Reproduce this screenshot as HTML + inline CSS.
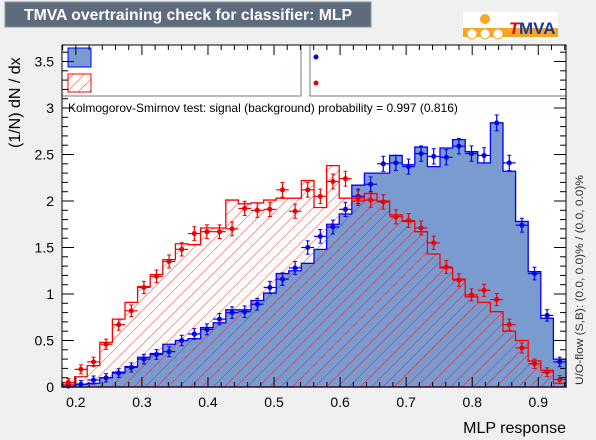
<!DOCTYPE html>
<html><head><meta charset="utf-8"><style>
body{margin:0;background:#f0f0f0;}
svg{display:block;font-family:"Liberation Sans",sans-serif;}
</style></head><body>
<svg id="c" width="596" height="440" xmlns="http://www.w3.org/2000/svg">
<defs>
<pattern id="hatch" patternUnits="userSpaceOnUse" width="8" height="8" patternTransform="rotate(45)">
<line x1="0" y1="0" x2="0" y2="8" stroke="#ff0000" stroke-width="0.8"/>
</pattern>
</defs>
<rect width="596" height="440" fill="#f0f0f0"/>
<rect x="5" y="2" width="366" height="25" fill="#5e6b7d" stroke="#8a95a3"/>
<text x="24" y="20" fill="#fff" font-size="16" font-weight="bold" textLength="328" lengthAdjust="spacingAndGlyphs">TMVA overtraining check for classifier: MLP</text>
<g>
<rect x="463" y="12" width="95" height="28" fill="#fff"/>
<rect x="463" y="28" width="95" height="9" fill="#f5a623"/>
<circle cx="485" cy="19" r="5" fill="#f5a623"/>
<circle cx="472" cy="34" r="5" fill="#fff" stroke="#f5a623"/>
<circle cx="485" cy="34" r="5" fill="#fff" stroke="#f5a623"/>
<circle cx="498" cy="34" r="5" fill="#fff" stroke="#f5a623"/>
<text x="509" y="34" font-size="17" font-weight="bold" font-style="italic" fill="#e00">T</text>
<text x="519" y="34" font-size="17" font-weight="bold" fill="#1a3a9a">MVA</text>
</g>
<rect x="62" y="45" width="504" height="342" fill="#fff"/>
<g id="plot"></g>
<g>
<rect x="62" y="45" width="239" height="51" fill="#fff" stroke="#6e7a8a"/>
<rect x="310" y="45" width="256" height="51" fill="#fff" stroke="#6e7a8a"/>
<rect x="68" y="48" width="23" height="19" fill="#7a9bd0" stroke="#0000ff"/>
<rect x="68" y="74" width="23" height="18" fill="url(#hatch)" stroke="#ff0000"/>
<circle cx="316" cy="57" r="2.5" fill="#0000ee"/>
<circle cx="316" cy="83" r="2.5" fill="#ee0000"/>
</g>
<text x="68" y="112" font-size="12">Kolmogorov-Smirnov test: signal (background) probability = 0.997 (0.816)</text>
<rect x="62" y="45" width="504" height="342" fill="none" stroke="#000"/>
<g id="axes"></g>
<text transform="translate(20,148) rotate(-90)" font-size="16">(1/N) dN / dx</text>
<text x="566" y="433" font-size="16" text-anchor="end">MLP response</text>
<text transform="translate(583,385) rotate(-90)" font-size="11" fill="#333" textLength="210" lengthAdjust="spacingAndGlyphs">U/O-flow (S,B): (0.0, 0.0)% / (0.0, 0.0)%</text>
</svg>
<script>
const xMin=0.179, xMax=0.942, nBins=40;
const sigTrain=[0.01,0.03,0.04,0.1,0.16,0.22,0.32,0.36,0.46,0.5,0.52,0.64,0.69,0.83,0.83,0.93,1.01,1.22,1.25,1.33,1.48,1.75,1.86,2.17,2.30,2.30,2.49,2.39,2.58,2.37,2.57,2.66,2.53,2.41,2.84,2.32,1.78,1.24,0.74,0.30];
const sigTest=[0.01,0.03,0.075,0.1,0.15,0.21,0.3,0.35,0.38,0.5,0.57,0.62,0.73,0.8,0.81,0.89,1.07,1.16,1.28,1.5,1.62,1.72,1.91,2.05,2.18,2.4,2.41,2.37,2.51,2.48,2.47,2.59,2.51,2.49,2.84,2.41,1.74,1.22,0.77,0.27];
const bkgTrain=[0.03,0.11,0.23,0.48,0.73,0.91,1.08,1.21,1.37,1.54,1.53,1.71,1.71,2.01,1.97,1.98,2.01,2.03,2.03,2.22,1.93,2.38,2.03,2.0,2.08,2.0,1.85,1.78,1.67,1.43,1.28,1.16,0.97,0.91,0.81,0.6,0.5,0.28,0.18,0.04];
const bkgTest=[0.05,0.19,0.27,0.46,0.67,0.82,1.07,1.19,1.35,1.48,1.65,1.67,1.67,1.7,1.92,1.9,1.91,2.12,1.89,2.12,2.05,2.21,2.24,2.03,2.01,1.99,1.83,1.79,1.71,1.55,1.29,1.15,0.99,1.04,0.94,0.67,0.42,0.25,0.16,0.08];
const yTicks=[0,0.5,1,1.5,2,2.5,3,3.5];
const yTickLabels=["0","0.5","1","1.5","2","2.5","3","3.5"];
const xTicks=[0.2,0.3,0.4,0.5,0.6,0.7,0.8,0.9];
const xTickLabels=["0.2","0.3","0.4","0.5","0.6","0.7","0.8","0.9"];
const X0=62,X1=566,Y0=387,Y1=45;
const yMax=(Y0-Y1)/93;
const sx=v=>X0+(v-xMin)/(xMax-xMin)*(X1-X0);
const sy=v=>Y0-v/yMax*(Y0-Y1);
const bw=(xMax-xMin)/nBins;
const NS="http://www.w3.org/2000/svg";
const plot=document.getElementById('plot'), axes=document.getElementById('axes');
function mk(tag,attrs,parent){const e=document.createElementNS(NS,tag);for(const k in attrs)e.setAttribute(k,attrs[k]);parent.appendChild(e);return e;}
function stepPath(vals){let d=`M${sx(xMin)},${sy(0)}`;vals.forEach((v,i)=>{d+=` L${sx(xMin+i*bw)},${sy(v)} L${sx(xMin+(i+1)*bw)},${sy(v)}`;});d+=` L${sx(xMax)},${sy(0)} Z`;return d;}
let p=mk('path',{d:stepPath(sigTrain),fill:'#7a9bd0',stroke:'#0000ff','stroke-width':1.3},plot);


p=mk('path',{d:stepPath(bkgTrain),fill:'url(#hatch)',stroke:'#ff0000','stroke-width':1.3},plot);


function pts(vals,col,name){vals.forEach((v,i)=>{const c=xMin+(i+0.5)*bw;const e=0.035+0.03*Math.sqrt(v);const g=mk('g',{},plot);


mk('line',{x1:sx(c-bw/2),x2:sx(c+bw/2),y1:sy(v),y2:sy(v),stroke:col,'stroke-width':1.2},g);
mk('line',{x1:sx(c),x2:sx(c),y1:sy(v+e),y2:sy(Math.max(0,v-e)),stroke:col,'stroke-width':1.2},g);
mk('line',{x1:sx(c)-2,x2:sx(c)+2,y1:sy(v+e),y2:sy(v+e),stroke:col},g);
mk('line',{x1:sx(c)-2,x2:sx(c)+2,y1:sy(Math.max(0,v-e)),y2:sy(Math.max(0,v-e)),stroke:col},g);
mk('circle',{cx:sx(c),cy:sy(v),r:2.5,fill:col},g);});}
pts(sigTest,'#0000ee','signal-test-point');
pts(bkgTest,'#ee0000','background-test-point');
for(let v=0;v<=yMax+1e-9;v+=0.1){const y=sy(v);const maj=Math.abs(v*2-Math.round(v*2))<1e-6;const L=maj?12:6;
mk('line',{x1:X0,x2:X0+L,y1:y,y2:y,stroke:'#000'},axes);mk('line',{x1:X1,x2:X1-L,y1:y,y2:y,stroke:'#000'},axes);}
yTicks.forEach((v,i)=>{const t=mk('text',{x:X0-8,y:sy(v)+5,'font-size':14,'text-anchor':'end'},axes);t.textContent=yTickLabels[i];

});
for(let v=0.18;v<=xMax;v+=0.02){const x=sx(v);const maj=Math.abs(v*10-Math.round(v*10))<1e-6;const L=maj?10:5;
mk('line',{x1:x,x2:x,y1:Y0,y2:Y0-L,stroke:'#000'},axes);mk('line',{x1:x,x2:x,y1:Y1,y2:Y1+L,stroke:'#000'},axes);}
xTicks.forEach((v,i)=>{const t=mk('text',{x:sx(v),y:407,'font-size':14,'text-anchor':'middle'},axes);t.textContent=xTickLabels[i];

});
</script>
</body></html>
